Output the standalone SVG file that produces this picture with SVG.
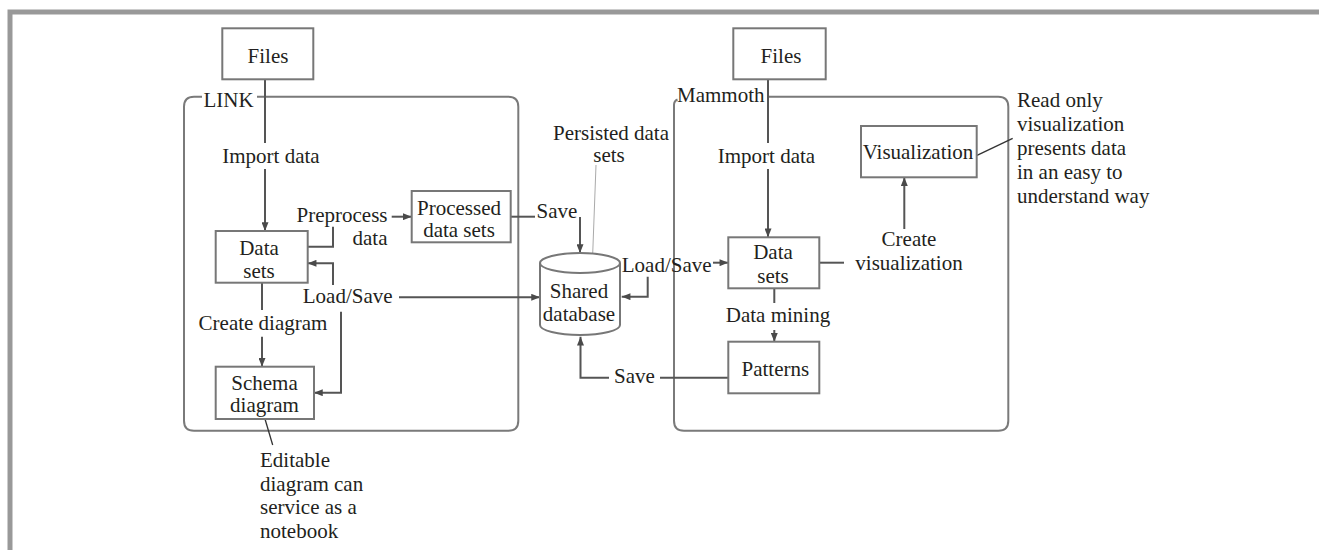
<svg xmlns="http://www.w3.org/2000/svg" width="1319" height="550" viewBox="0 0 1319 550">
<defs>
<marker id="ah" viewBox="0 0 10 8" refX="10" refY="4" markerWidth="9" markerHeight="7" markerUnits="userSpaceOnUse" orient="auto">
<path d="M0,0 L10,4 L0,8 z" fill="#4a4a4a"/>
</marker>
</defs>
<style>
text{font-family:'Liberation Serif','DejaVu Serif',serif;font-size:21px;fill:#231f20}
.c{text-anchor:middle}
.box{fill:#fff;stroke:#777;stroke-width:2}
.cont{fill:none;stroke:#7a7a7a;stroke-width:2}
.ln{fill:none;stroke:#555;stroke-width:2}
.ar{marker-end:url(#ah)}
.thin{fill:none;stroke:#aaa;stroke-width:1}
.ann{fill:none;stroke:#333;stroke-width:1.3}
</style>
<rect width="1319" height="550" fill="#fff"/>
<rect x="10" y="12" width="1340" height="580" fill="none" stroke="#999" stroke-width="5"/>

<g font-family="Liberation Serif, DejaVu Serif, serif">
<g id="link-container">
<path class="cont" d="M202 96.7 H194 Q184 96.7 184 106.7 V420.7 Q184 430.7 194 430.7 H508.3 Q518.3 430.7 518.3 420.7 V106.7 Q518.3 96.7 508.3 96.7 H257"/>
<text x="228.5" y="107" class="c">LINK</text>
</g>
<g id="mammoth-container">
<path class="cont" d="M768 96.7 H998.3 Q1008.3 96.7 1008.3 106.7 V420.7 Q1008.3 430.7 998.3 430.7 H684 Q674 430.7 674 420.7 V105 Q674 101 677.5 99.5"/>
<text x="720.8" y="101.7" class="c">Mammoth</text>
</g>

<g id="connectors">
<path class="ln" d="M265 79.3 V143"/>
<path class="ln ar" d="M265 169 V231"/>
<path class="ln" d="M307.7 246.7 H333 V226.7"/>
<path class="ln ar" d="M391.7 216.7 H411.7"/>
<path class="ln" d="M510.7 216.7 H535"/>
<path class="ln ar" d="M580 217 V253"/>
<path class="ln ar" d="M333 285 V263.3 H307.7"/>
<path class="ln ar" d="M341 311.7 V392.7 H314"/>
<path class="ln ar" d="M399 297.3 H540"/>
<path class="ln" d="M262 282.7 V310"/>
<path class="ln ar" d="M262 336.7 V366.7"/>
<path class="ann" d="M265 419 L272.7 445"/>
<path class="thin" d="M596 165 L592.7 254"/>
<path class="ln" d="M768 79.3 V143"/>
<path class="ln ar" d="M768 169 V237.3"/>
<path class="ln ar" d="M647.7 276.7 V296.7 H621.7"/>
<path class="ln ar" d="M713 262.7 H728.3"/>
<path class="ln" d="M819.3 262.7 H844"/>
<path class="ln ar" d="M904.3 229 V177.3"/>
<path class="ann" d="M977 155.3 L1012.7 138.3"/>
<path class="ln" d="M774.3 288.3 V303"/>
<path class="ln ar" d="M774.3 330 V341.7"/>
<path class="ln" d="M728.3 377.7 H660"/>
<path class="ln ar" d="M609 377.7 H580.5 V336.7"/>
</g>

<g id="files-left"><rect class="box" x="222.3" y="28.3" width="91" height="51"/><text x="268" y="63" class="c">Files</text></g>
<g id="files-right"><rect class="box" x="733.3" y="28.3" width="92.4" height="51"/><text x="781" y="63" class="c">Files</text></g>
<g id="datasets-left"><rect class="box" x="215.7" y="231" width="92" height="51.7"/><text x="259" y="255" class="c">Data</text><text x="259" y="278.3" class="c">sets</text></g>
<g id="processed"><rect class="box" x="411.7" y="191" width="99" height="51.3"/><text x="459" y="215" class="c">Processed</text><text x="459" y="236.7" class="c">data sets</text></g>
<g id="schema"><rect class="box" x="215.7" y="366.7" width="98.3" height="52.3"/><text x="264.5" y="390" class="c">Schema</text><text x="264.5" y="411.7" class="c">diagram</text></g>
<g id="visualization"><rect class="box" x="861" y="126" width="115.7" height="51.3"/><text x="918" y="159.3" class="c">Visualization</text></g>
<g id="datasets-right"><rect class="box" x="728.3" y="237.3" width="91" height="51"/><text x="773" y="259.3" class="c">Data</text><text x="773" y="282.7" class="c">sets</text></g>
<g id="patterns"><rect class="box" x="728.3" y="341.7" width="91" height="51.6"/><text x="775.3" y="376" class="c">Patterns</text></g>
<g id="shared-db">
<path d="M540 263 V325 A40 10 0 0 0 620 325 V263" fill="#fff" stroke="#777" stroke-width="2"/>
<ellipse cx="580" cy="263" rx="40" ry="10" fill="#fff" stroke="#777" stroke-width="2"/>
<text x="579" y="298.3" class="c">Shared</text><text x="579" y="320.7" class="c">database</text>
</g>

<g id="labels">
<text x="271" y="163.3" class="c">Import data</text>
<text x="766.5" y="163.3" class="c">Import data</text>
<text x="342" y="221.7" class="c">Preprocess</text>
<text x="370" y="245" class="c">data</text>
<text x="347.7" y="303" class="c">Load/Save</text>
<text x="263" y="330" class="c">Create diagram</text>
<text x="611" y="140" class="c">Persisted data</text>
<text x="609" y="161.7" class="c">sets</text>
<text x="557" y="218" class="c">Save</text>
<text x="666.7" y="271.7" class="c">Load/Save</text>
<text x="634.5" y="383" class="c">Save</text>
<text x="909" y="246" class="c">Create</text>
<text x="909" y="270" class="c">visualization</text>
<text x="778" y="321.7" class="c">Data mining</text>
</g>
<g id="note-schema">
<text x="260" y="467">Editable</text>
<text x="260" y="490.5">diagram can</text>
<text x="260" y="514">service as a</text>
<text x="260" y="537.5">notebook</text>
</g>
<g id="note-vis">
<text x="1017" y="107.3">Read only</text>
<text x="1017" y="131.3">visualization</text>
<text x="1017" y="155.3">presents data</text>
<text x="1017" y="179.3">in an easy to</text>
<text x="1017" y="202.7">understand way</text>
</g>
</g>
</svg>
